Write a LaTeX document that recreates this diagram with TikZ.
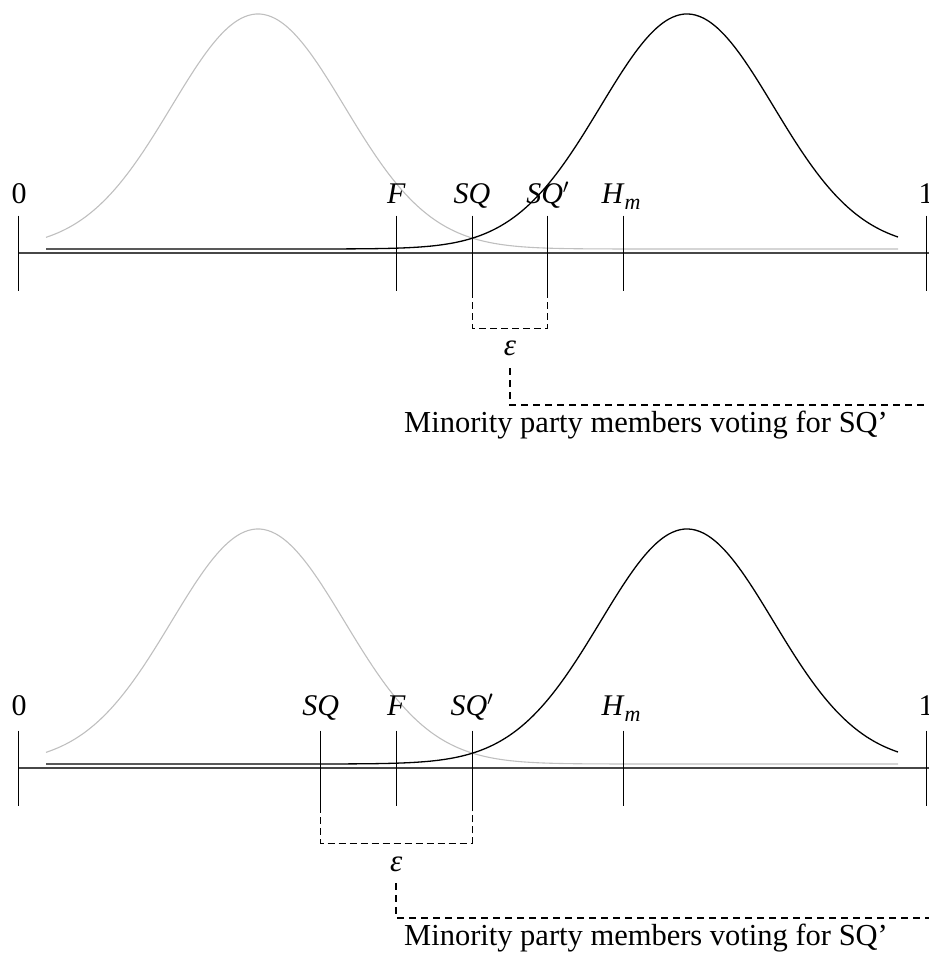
\documentclass[tikz,border=0pt]{standalone}
\usepackage{fontspec}
\setmainfont{Liberation Serif}
\begin{document}
\begin{tikzpicture}[x=1pt,y=-1pt,
  lab/.style={anchor=base, inner sep=0pt, font=\fontsize{30}{36}\selectfont},
  epslab/.style={inner sep=0pt, font=\fontsize{31}{36}\selectfont},
  txt/.style={anchor=base, inner sep=0pt, font=\fontsize{30.5}{36}\selectfont},
  tickline/.style={line width=1pt, black},
  axisline/.style={line width=1.6pt, black!72},
  bracket/.style={line width=1pt, black, dash pattern=on 7pt off 4pt},
  conn/.style={line width=1.8pt, black, dash pattern=on 7pt off 5pt},
  gcurve/.style={line width=1.1pt, black!25},
  bcurve/.style={line width=1.3pt, black}]
\useasboundingbox (0,0) rectangle (928,960);

% ---------------- top panel ----------------
\begin{scope}
  \draw[gcurve] plot[domain=46:898, samples=220, smooth] (\x, {249-235*exp(-0.5*((\x-258)/86.5)^2)});
  \draw[bcurve] plot[domain=46:898, samples=220, smooth] (\x, {249-235*exp(-0.5*((\x-687)/86.5)^2)});
  \coordinate (tA0) at (18,253);
  \coordinate (tA1) at (930,253);
  \draw[axisline] (tA0) -- (tA1);
  \foreach \n/\xx in {t0/18, tF/396.3, tSQ/472, tSQp/547.7, tH/623.3, t1/926}{
    \coordinate (\n top) at (\xx,215.5);
    \coordinate (\n bot) at (\xx,291);
    \draw[tickline] (\n top) -- (\n bot);
  }
  \node[lab] (tl0) at (19,203) {0};
  \node[lab] (tlF) at (396.3,203) {\textit{F}};
  \node[lab] (tlSQ) at (472,203) {\textit{SQ}};
  \node[lab] (tlSQp) at (547.7,203) {\textit{SQ}$'$};
  \node[lab] (tlH) at (621,203) {\textit{H}\raisebox{-0.22em}{\fontsize{22}{22}\selectfont\textit{m}}};
  \node[lab] (tl1) at (926,203) {1};
  \coordinate (tb1) at (472,291);
  \coordinate (tb2) at (472,328);
  \coordinate (tb3) at (547.7,328);
  \coordinate (tb4) at (547.7,291);
  \draw[bracket] (tb1) -- (tb2) -- (tb3) -- (tb4);
  \node[epslab] (teps) at (510,348) {\textit{ε}};
  \coordinate (tc1) at (510,368);
  \coordinate (tc2) at (510,405);
  \coordinate (tc3) at (932,405);
  \draw[conn] (tc1) -- (tc2) -- (tc3);
  \node[txt] (ttext) at (646,432) {Minority party members voting for SQ’};
\end{scope}

% ---------------- bottom panel ----------------
\begin{scope}[shift={(0,515)}]
  \draw[gcurve] plot[domain=46:898, samples=220, smooth] (\x, {249-235*exp(-0.5*((\x-258)/86.5)^2)});
  \draw[bcurve] plot[domain=46:898, samples=220, smooth] (\x, {249-235*exp(-0.5*((\x-687)/86.5)^2)});
  \coordinate (bA0) at (18,253);
  \coordinate (bA1) at (930,253);
  \draw[axisline] (bA0) -- (bA1);
  \foreach \n/\xx in {b0/18, bSQ/320.7, bF/396.3, bSQp/472, bH/623.3, b1/926}{
    \coordinate (\n top) at (\xx,215.5);
    \coordinate (\n bot) at (\xx,291);
    \draw[tickline] (\n top) -- (\n bot);
  }
  \node[lab] (bl0) at (19,200) {0};
  \node[lab] (blSQ) at (320.7,200) {\textit{SQ}};
  \node[lab] (blF) at (396.3,200) {\textit{F}};
  \node[lab] (blSQp) at (472,200) {\textit{SQ}$'$};
  \node[lab] (blH) at (621,200) {\textit{H}\raisebox{-0.22em}{\fontsize{22}{22}\selectfont\textit{m}}};
  \node[lab] (bl1) at (926,200) {1};
  \coordinate (bb1) at (320.7,291);
  \coordinate (bb2) at (320.7,328);
  \coordinate (bb3) at (472,328);
  \coordinate (bb4) at (472,291);
  \draw[bracket] (bb1) -- (bb2) -- (bb3) -- (bb4);
  \node[epslab] (beps) at (396.3,349) {\textit{ε}};
  \coordinate (bc1) at (396.3,368);
  \coordinate (bc2) at (396.3,403);
  \coordinate (bc3) at (932,403);
  \draw[conn] (bc1) -- (bc2) -- (bc3);
  \node[txt] (btext) at (646,430) {Minority party members voting for SQ’};
\end{scope}
\end{tikzpicture}
\end{document}
